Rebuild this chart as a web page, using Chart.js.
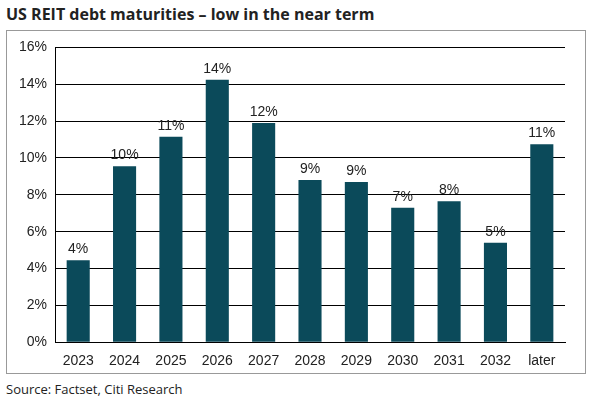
<!DOCTYPE html>
<html>
<head>
<meta charset="utf-8">
<script src="https://cdn.jsdelivr.net/npm/chart.js@4"></script>
<style>
body { margin: 0; background: #fff; font-family: "Liberation Sans", Arial, sans-serif; }
#title { position: absolute; left: 6px; top: 3px; font-size: 16px; font-weight: bold; font-family: "Open Sans", "Liberation Sans", sans-serif; color: #222; }
#box { position: absolute; left: 6px; top: 30px; width: 578px; height: 342px; border: 1px solid #999; }
#source { position: absolute; left: 6px; top: 380px; font-size: 13px; font-family: "Open Sans", "Liberation Sans", sans-serif; color: #222; }
</style>
</head>
<body>
<div id="title">US REIT debt maturities – low in the near term</div>
<div id="box"><canvas id="graph1"></canvas></div>
<div id="source">Source: Factset, Citi Research</div>
<script>
var categories = ['2023', '2024', '2025', '2026', '2027', '2028', '2029', '2030', '2031', '2032', 'later'];
var values = [4.45, 9.55, 11.15, 14.25, 11.9, 8.8, 8.7, 7.3, 7.65, 5.4, 10.75];
var labels = ['4%', '10%', '11%', '14%', '12%', '9%', '9%', '7%', '8%', '5%', '11%'];

var barLabels = {
    id: 'barLabels',
    afterDatasetsDraw: function (chart) {
        var ctx = chart.ctx;
        var meta = chart.getDatasetMeta(0);
        ctx.save();
        ctx.font = '14px "Liberation Sans", Arial, sans-serif';
        ctx.fillStyle = '#222';
        ctx.textAlign = 'center';
        ctx.textBaseline = 'bottom';
        meta.data.forEach(function (bar, i) {
            ctx.fillText(labels[i], bar.x, bar.y - 4);
        });
        ctx.restore();
    }
};

var context = document.getElementById('graph1').getContext('2d');
var chart = new Chart(context, {
    type: 'bar',
    data: {
        labels: categories,
        datasets: [{
            data: values,
            backgroundColor: '#0b4a5a',
            categoryPercentage: 0.83,
            barPercentage: 0.6
        }]
    },
    options: {
        responsive: true,
        maintainAspectRatio: false,
        animation: false,
        layout: { padding: { top: 1, right: 20, bottom: 0, left: 4 } },
        plugins: { legend: { display: false }, tooltip: { enabled: false } },
        scales: {
            x: {
                grid: { display: false },
                border: { color: '#000' },
                ticks: { color: '#222', font: { size: 14, family: '"Liberation Sans", Arial, sans-serif' } }
            },
            y: {
                min: 0, max: 16,
                grid: { color: '#000', drawTicks: false },
                border: { color: '#000' },
                ticks: {
                    stepSize: 2, padding: 8, color: '#222',
                    font: { size: 14, family: '"Liberation Sans", Arial, sans-serif' },
                    callback: function (v) { return v + '%'; }
                }
            }
        }
    },
    plugins: [barLabels]
});
</script>
</body>
</html>
